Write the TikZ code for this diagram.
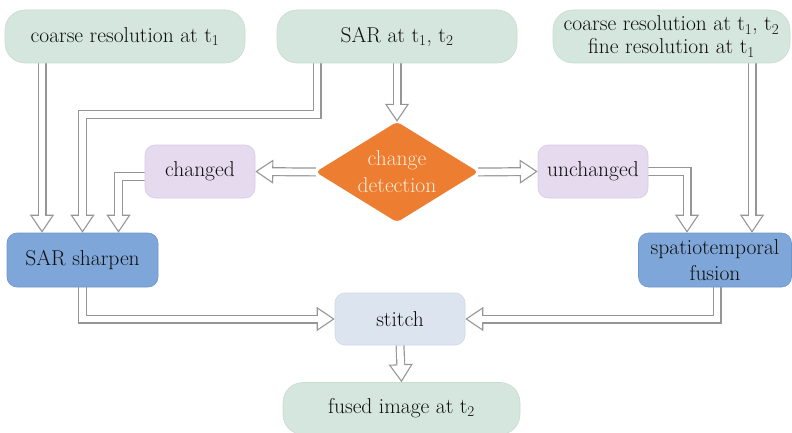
\documentclass[tikz,border=0pt]{standalone}
\usepackage{fontspec}
\usetikzlibrary{arrows.meta,shapes.geometric,backgrounds}
\definecolor{gbox}{RGB}{212,230,221}
\definecolor{gedge}{RGB}{198,220,209}
\definecolor{pbox}{RGB}{230,218,238}
\definecolor{pedge}{RGB}{216,202,228}
\definecolor{bbox}{RGB}{127,166,216}
\definecolor{bedge}{RGB}{110,150,204}
\definecolor{sbox}{RGB}{220,228,240}
\definecolor{sedge}{RGB}{206,216,232}
\definecolor{cdorange}{RGB}{237,125,49}
\definecolor{cdtext}{RGB}{253,236,216}
\definecolor{pipegray}{RGB}{150,150,150}
\definecolor{txt}{RGB}{15,15,15}
\begin{document}
\begin{tikzpicture}[x=1pt,y=-1pt,
  every node/.style={font=\fontsize{21.5}{23}\selectfont, text=txt, inner sep=0pt, align=center},
  greenbox/.style={fill=gbox, draw=gedge, line width=0.6pt, rounded corners=20pt, minimum height=53pt},
  purplebox/.style={fill=pbox, draw=pedge, line width=0.6pt, rounded corners=10pt, minimum height=53pt, minimum width=110pt},
  bluebox/.style={fill=bbox, draw=bedge, line width=0.6pt, rounded corners=10pt, minimum height=54pt},
  stitchbox/.style={fill=sbox, draw=sedge, line width=0.6pt, rounded corners=10pt, minimum height=52pt, minimum width=130pt},
  cdbox/.style={diamond, shape aspect=1.62, fill=cdorange, draw=cdorange, rounded corners=4pt,
     minimum width=162pt, minimum height=100pt, text=cdtext, font=\fontsize{21.5}{27}\selectfont},
  pipe/.style={draw=pipegray, line width=9pt,
     -{Triangle[length=18pt, width=24pt, fill=white, line width=1.1pt]},
     postaction={draw=white, line width=6.6pt, -, shorten >=8pt}}
]
\useasboundingbox (0,0) rectangle (792,433);

\node[greenbox, minimum width=240pt] (c1) at (125,36.5) {coarse resolution at t\textsubscript{1}};
\node[greenbox, minimum width=240pt] (sar) at (397,36.5) {SAR at t\textsubscript{1}, t\textsubscript{2}};
\node[greenbox, minimum width=237pt] (c12) at (671.5,36.5)
  {coarse resolution at t\textsubscript{1}, t\textsubscript{2}\\fine resolution at t\textsubscript{1}};
\node[cdbox] (cd) at (397,172) {change\\detection};
\node[purplebox] (chg) at (200,171.5) {changed};
\node[purplebox] (unchg) at (593,171.5) {unchanged};
\node[bluebox, minimum width=151pt] (sharp) at (82.5,260) {SAR sharpen};
\node[bluebox, minimum width=153pt, font=\fontsize{21.5}{26}\selectfont] (fus) at (715,260) {spatiotemporal\\fusion};
\node[stitchbox] (stitch) at (400,319) {stitch};
\node[greenbox, minimum width=237pt, minimum height=52pt] (fused) at (401.5,408.5) {fused image at t\textsubscript{2}};

\begin{pgfonlayer}{background}
\draw[pipe] ([xshift=-83pt]c1.south) -- ([xshift=-83pt]c1.south |- sharp.north);
\draw[pipe] ([xshift=-80pt]sar.south) -- ++(0,51) -| (sharp.north);
\draw[pipe] (sar.south) -- (cd.north);
\draw[pipe] (cd.west) -- (chg.east);
\draw[pipe] ([yshift=-5pt]chg.west) -| ([xshift=36pt]sharp.north);
\draw[pipe] (cd.east) -- (unchg.west);
\draw[pipe] (unchg.east) -| ([xshift=-28pt]fus.north);
\draw[pipe] ([xshift=80.5pt]c12.south) -- ([xshift=80.5pt]c12.south |- fus.north);
\draw[pipe] (sharp.south) |- (stitch.west);
\draw[pipe] ([xshift=2pt]fus.south) |- (stitch.east);
\draw[pipe] (stitch.south) -- (fused.north);
\end{pgfonlayer}
\end{tikzpicture}
\end{document}
